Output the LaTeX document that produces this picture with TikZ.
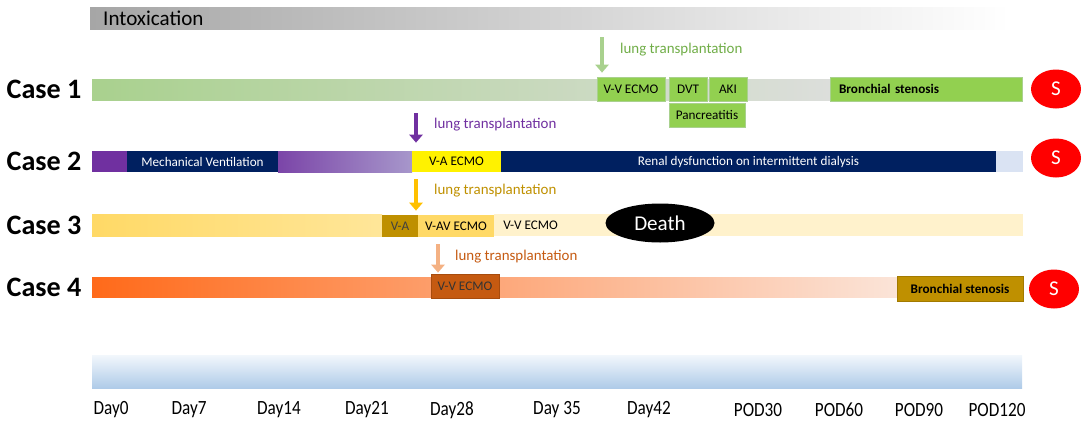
\documentclass[tikz,border=0pt]{standalone}
\usepackage{fontspec}
\setmainfont{Carlito}
\newfontfamily\condfont[FakeStretch=0.85]{Carlito}
\usetikzlibrary{arrows.meta,shapes.geometric}

\newlength{\px}\setlength{\px}{0.02cm}

\definecolor{intgray}{HTML}{A6A6A6}
\definecolor{caseonelite}{HTML}{A9D18E}
\definecolor{caseonemid}{HTML}{C4DBB5}
\definecolor{caseonegray}{HTML}{DCDEDB}
\definecolor{evgreen}{HTML}{92D050}
\definecolor{ltgreen}{HTML}{70AD47}
\definecolor{cpurple}{HTML}{7030A0}
\definecolor{cpurplea}{HTML}{7B45A8}
\definecolor{cpurpleb}{HTML}{A797CB}
\definecolor{cnavy}{HTML}{002060}
\definecolor{clblue}{HTML}{DAE3F3}
\definecolor{cgold}{HTML}{BF9000}
\definecolor{cyellowa}{HTML}{FFD966}
\definecolor{cyellowb}{HTML}{FFE699}
\definecolor{cpale}{HTML}{FFF2CC}
\definecolor{camber}{HTML}{FFC000}
\definecolor{corangea}{HTML}{FF6A1A}
\definecolor{corangem}{HTML}{F9AF92}
\definecolor{corangeb}{HTML}{FBE4D8}
\definecolor{crust}{HTML}{C55A11}
\definecolor{cpeach}{HTML}{F4B183}
\definecolor{bandtop}{HTML}{F2F7FC}
\definecolor{bandbot}{HTML}{AFCBE8}

\begin{document}
\begin{tikzpicture}[x=0.02cm, y=-0.02cm,
    caselabel/.style={font=\fontsize{16}{16}\selectfont\bfseries},
    ev/.style={inner sep=0pt, minimum height=24\px, font=\fontsize{7.5}{8}\selectfont},
    ltx/.style={anchor=west, font=\fontsize{8.5}{9}\selectfont},
    ltarrow/.style={line width=2.8pt, -{Triangle[width=7.4pt,length=4.5pt]}},
    surv/.style={ellipse, fill=red, text=white, minimum width=50\px, minimum height=39\px, inner sep=0pt, font=\fontsize{12}{12}\selectfont},
    daylbl/.style={font=\condfont\fontsize{11.5}{12}\selectfont}]
    \useasboundingbox (0,0) rectangle (1084,426);

    % Intoxication bar on top
    \shade[left color=intgray, right color=white] (90,7) rectangle (1010,29);
    \node[anchor=west, font=\fontsize{12}{12}\selectfont] (intox) at (97,18) {Intoxication};

    % Case 1
    \node[caselabel] (c1) at (44,89) {Case 1};
    \shade[left color=caseonelite, middle color=caseonemid, right color=caseonegray] (92,79) rectangle (830,100);
    \node[ev, fill=evgreen, draw=caseonelite, minimum width=68\px] (vv1) at (631,89) {V-V ECMO};
    \node[ev, fill=evgreen, draw=caseonelite, minimum width=38\px] (dvt1) at (688,89) {DVT};
    \node[ev, fill=evgreen, draw=caseonelite, minimum width=38\px] (aki1) at (728,89) {AKI};
    \node[ev, fill=evgreen, draw=caseonelite, minimum width=76\px] (pan1) at (707,115) {Pancreatitis};
    \node[ev, fill=evgreen, draw=caseonelite, minimum width=192\px, text width=174\px, align=left, font=\fontsize{7.5}{8}\selectfont\bfseries] (bs1) at (926,89) {Bronchial stenosis};
    \node[surv] (s1) at (1056,89) {S};
    \coordinate (t1) at (602,37);
    \draw[ltarrow, caseonelite, shorten >=4\px] (t1) -- (t1 |- vv1.north);
    \node[ltx, ltgreen] (lt1) at (614,50) {lung transplantation};

    % Case 2
    \node[caselabel] (c2) at (44,161) {Case 2};
    \fill[cpurple] (92,151) rectangle (127,172);
    \node[ev, fill=cnavy, text=white, minimum width=151\px, minimum height=21\px] (mv2) at (202.5,161.5) {Mechanical Ventilation};
    \shade[left color=cpurplea, right color=cpurpleb] (278,151) rectangle (412,172);
    \node[ev, fill=yellow, minimum width=89\px, minimum height=21\px] (va2) at (456.5,161.5) {V-A ECMO};
    \node[ev, fill=cnavy, text=white, minimum width=495\px, minimum height=21\px] (rd2) at (748.5,161.5) {Renal dysfunction on intermittent dialysis};
    \fill[clblue] (996,151) rectangle (1023,172);
    \node[surv] (s2) at (1056,158) {S};
    \coordinate (t2) at (416,113);
    \draw[ltarrow, cpurple, shorten >=8\px] (t2) -- (t2 |- va2.north);
    \node[ltx, cpurple] (lt2) at (428,125) {lung transplantation};

    % Case 3
    \node[caselabel] (c3) at (44,225) {Case 3};
    \shade[left color=cyellowa, right color=cyellowb] (92,214) rectangle (382,236);
    \fill[cpale] (494,214) rectangle (1023,236);
    \node[ev, fill=cgold, text=black!75, minimum width=36\px, minimum height=22\px] (va3) at (400,226) {V-A};
    \node[ev, fill=cyellowa, minimum width=76\px, minimum height=22\px] (vav3) at (456,226) {V-AV ECMO};
    \node[ev, anchor=west] (vv3) at (503,225) {V-V ECMO};
    \node[ellipse, fill=black, text=white, minimum width=109\px, minimum height=39\px, inner sep=0pt, font=\fontsize{12}{12}\selectfont] (death3) at (660,223) {Death};
    \coordinate (t3) at (416,179);
    \draw[ltarrow, camber, shorten >=4\px] (t3) -- (t3 |- va3.north);
    \node[ltx, cgold] (lt3) at (428,191) {lung transplantation};

    % Case 4
    \node[caselabel] (c4) at (44,287) {Case 4};
    \shade[left color=corangea, middle color=corangem, right color=corangeb] (92,277) rectangle (897,297);
    \node[ev, fill=crust, draw=crust!85!black, text=black!80, minimum width=68\px] (vv4) at (465,286) {V-V ECMO};
    \node[ev, fill=cgold, draw=cgold!85!black, minimum width=126\px, minimum height=25\px, font=\fontsize{7.5}{8}\selectfont\bfseries] (bs4) at (960,288.5) {Bronchial stenosis};
    \node[surv] (s4) at (1054,289) {S};
    \coordinate (t4) at (438,244);
    \draw[ltarrow, cpeach, shorten >=1\px] (t4) -- (t4 |- vv4.north);
    \node[ltx, crust] (lt4) at (449,257) {lung transplantation};

    % Time axis
    \shade[top color=bandtop, bottom color=bandbot] (92,355) rectangle (1022,388);
    \foreach \x/\lbl in {111/Day0, 189/Day7, 279/Day14, 367/Day21, 452/Day28, 557/Day 35, 649/Day42, 758/POD30, 839/POD60, 919/POD90, 997/POD120}
        \node[daylbl] at (\x,410) {\lbl};
\end{tikzpicture}
\end{document}
